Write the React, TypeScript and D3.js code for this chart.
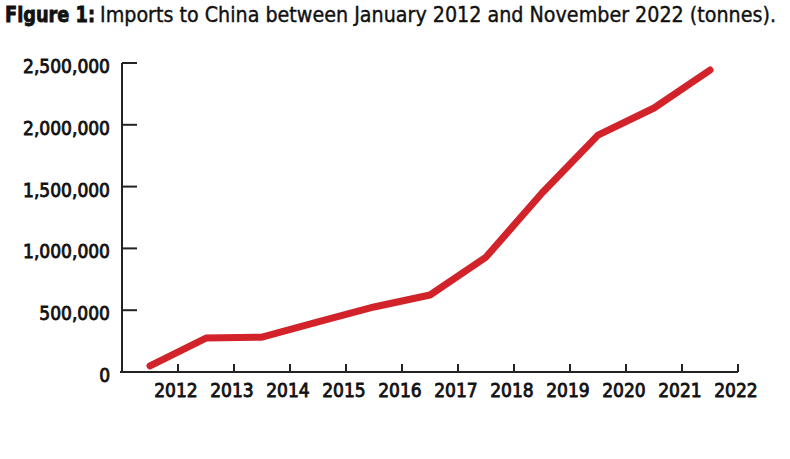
import React, { useLayoutEffect, useRef, useState } from "react";
import * as d3 from "d3";

const years = ["2012","2013","2014","2015","2016","2017","2018","2019","2020","2021","2022"];
const imports = [50000, 275000, 282000, 405000, 526000, 623000, 930000, 1448000, 1917000, 2136000, 2443000];
const yTicks = [0, 500000, 1000000, 1500000, 2000000, 2500000];
const titleBold = "Figure 1:";
const titleRest = "Imports to China between January 2012 and November 2022 (tonnes).";

const W = 790, H = 459;
const FONT = "'DejaVu Sans Condensed', 'Liberation Sans Narrow', sans-serif";

function FitText(props: { x: number; y: number; width: number; size: number; weight?: number; sw: number; children: string }) {
  const ref = useRef<SVGTextElement>(null);
  const [sx, setSx] = useState(0.85);
  useLayoutEffect(() => {
    if (ref.current) {
      const len = ref.current.getComputedTextLength();
      if (len > 0) setSx(props.width / len);
    }
  }, [props.width, props.children]);
  return (
    <g transform={`translate(${props.x},${props.y}) scale(${sx},1)`}>
      <text ref={ref} x={0} y={0} fontFamily={FONT} fontWeight={props.weight ?? 400} fontSize={props.size}
        fill="#111" stroke="#111" strokeWidth={props.sw}>{props.children}</text>
    </g>
  );
}

export default function App() {
  const x = d3.scaleBand<string>().domain(years).range([122, 738]).paddingInner(0).paddingOuter(0);
  const y = d3.scaleLinear().domain([0, 2500000]).range([372, 63]);
  const bw = x.bandwidth();
  const line = d3.line<number>()
    .x((_, i) => (x(years[i]) as number) + bw / 2)
    .y((d) => y(d));
  const fmt = d3.format(",");
  const axisColor = "#222";
  return (
    <svg width={W} height={H} style={{ position: "absolute", left: 0, top: 0, background: "#fff" }}>
      <FitText x={5} y={22} width={90} size={22} weight={900} sw={0.8}>{titleBold}</FitText>
      <FitText x={100} y={22} width={676} size={22} sw={0.4}>{titleRest}</FitText>

      {/* y axis */}
      <line x1={122} x2={122} y1={y(2500000)} y2={y(0)} stroke={axisColor} strokeWidth={2} />
      {yTicks.map((t) => (
        <g key={t}>
          <line x1={122} x2={137} y1={y(t)} y2={y(t)} stroke={axisColor} strokeWidth={2} />
          <text x={110} y={y(t) + 10} textAnchor="end" fontFamily={FONT} fontSize={19}
            fill="#111" stroke="#111" strokeWidth={0.8}>{fmt(t)}</text>
        </g>
      ))}

      {/* x axis */}
      <line x1={120} x2={738} y1={372} y2={372} stroke={axisColor} strokeWidth={2} />
      {years.map((yr) => {
        const tx = (x(yr) as number) + bw;
        return (
          <g key={yr}>
            <line x1={tx} x2={tx} y1={372} y2={364} stroke={axisColor} strokeWidth={2} />
            <text x={tx - 2} y={397} textAnchor="middle" fontFamily={FONT} fontSize={19}
              fill="#111" stroke="#111" strokeWidth={0.8}>{yr}</text>
          </g>
        );
      })}

      <path d={line(imports) as string} fill="none" stroke="#d2232a" strokeWidth={7}
        strokeLinecap="round" strokeLinejoin="round" />
    </svg>
  );
}
